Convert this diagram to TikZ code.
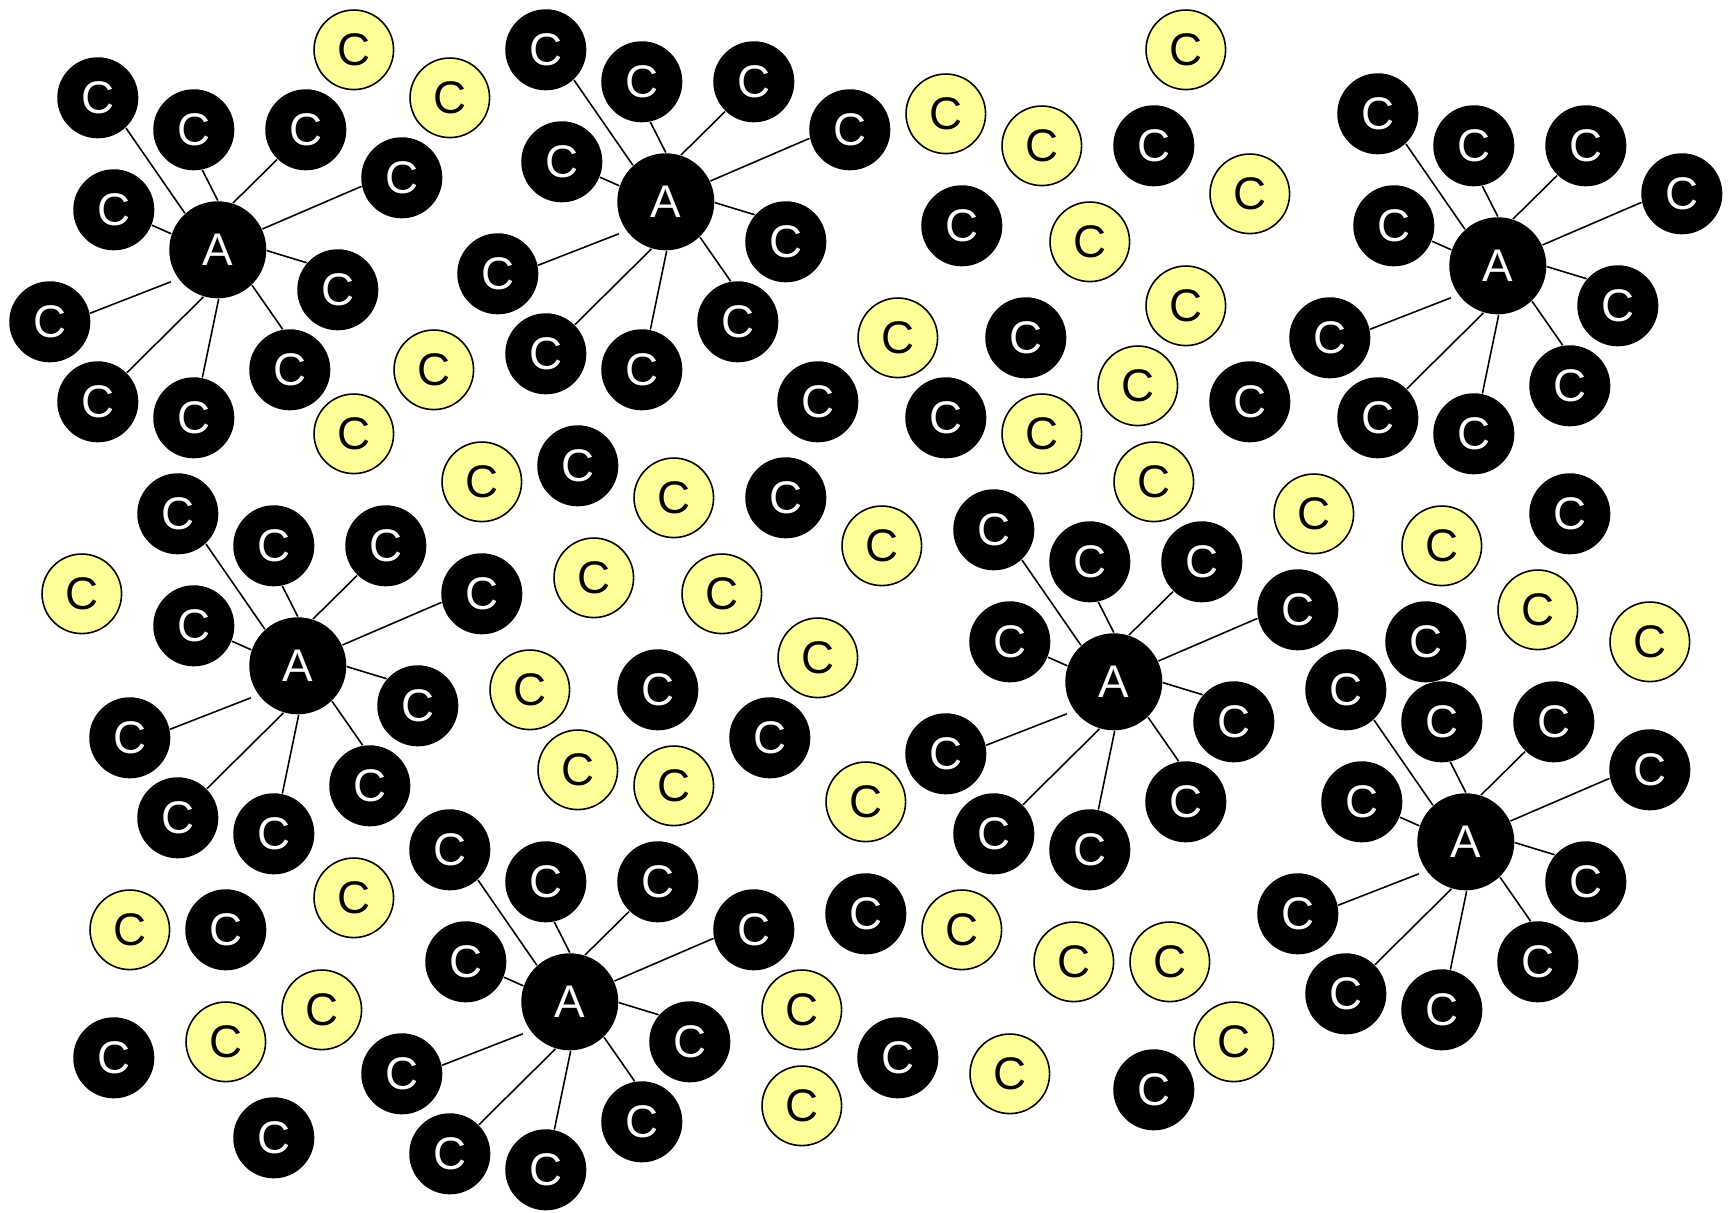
\documentclass[tikz,border=0pt]{standalone}
\usepackage{fontspec}
\setmainfont{Liberation Sans}
\definecolor{paleyellow}{HTML}{FFFF99}

\begin{document}
\begin{tikzpicture}[x=0.01cm,y=-0.01cm,
  atom/.style={circle,inner sep=0pt,minimum size=0.81cm,font=\fontsize{13}{15}\selectfont},
  hub/.style={atom,fill=black,text=white,minimum size=0.97cm},
  bound/.style={atom,fill=black,text=white},
  loose/.style={atom,draw=black,line width=0.45pt,fill=paleyellow,minimum size=0.795cm},
  link/.style={line width=0.45pt}]
  \useasboundingbox (0,0) rectangle (1734,1212);

  % seven A clusters, all of the same shape
  \foreach \k/\ax/\ay in {1/217.8/249.8, 2/665.8/201.8, 3/1497.8/265.8, 4/297.8/665.8,
                          5/1113.8/681.8, 6/1465.8/841.8, 7/569.8/1001.8} {
    \node[hub] (a\k) at (\ax,\ay) {A};
    \foreach \j/\dx/\dy in {1/-120/-152, 2/-24/-120, 3/88/-120, 4/184/-72, 5/-104/-40,
                            6/120/40, 7/-168/72, 8/72/120, 9/-120/152, 10/-24/168}
      \node[bound] (c\k-\j) at ([shift={(\dx,\dy)}]a\k.center) {C};
    \foreach \j/\p/\q in {1/132/313, 2/90/282, 3/72/226, 4/25/192, 5/161/338,
                          6/359/139, 8/314/100, 9/253/45, 10/271/78}
      \draw[link] (a\k.\p) -- (c\k-\j.\q);
    \coordinate (g\k) at ([shift={(-47,32)}]a\k.center);
    \draw[link] (c\k-7.12) -- (g\k);
  }

  % free C atoms
  \foreach \x/\y [count=\i] in {353.8/49.8, 449.8/97.8, 945.8/113.8, 1185.8/49.8, 1041.8/145.8,
      1249.8/193.8, 1089.8/241.8, 1185.8/305.8, 897.8/337.8, 433.8/369.8, 353.8/433.8,
      1137.8/385.8, 1041.8/433.8, 481.8/481.8, 673.8/497.8, 1153.8/481.8, 1313.8/513.8,
      881.8/545.8, 1441.8/545.8, 81.8/593.8, 593.8/577.8, 721.8/593.8, 1537.8/609.8,
      1649.8/641.8, 817.8/657.8, 529.8/689.8, 577.8/769.8, 673.8/785.8, 865.8/801.8,
      353.8/897.8, 129.8/929.8, 961.8/929.8, 1073.8/961.8, 1169.8/961.8, 321.8/1009.8,
      225.8/1041.8, 801.8/1009.8, 1233.8/1041.8, 1009.8/1073.8, 801.8/1105.8}
    \node[loose] (y\i) at (\x,\y) {C};

  \foreach \x/\y [count=\i] in {1153.8/145.8, 961.8/225.8, 1025.8/337.8, 817.8/401.8,
      945.8/417.8, 1249.8/401.8, 577.8/465.8, 785.8/497.8, 1569.8/513.8, 657.8/689.8,
      769.8/737.8, 1425.8/641.8, 225.8/929.8, 865.8/913.8, 113.8/1057.8, 897.8/1057.8,
      273.8/1137.8, 1153.8/1089.8}
    \node[bound] (b\i) at (\x,\y) {C};
\end{tikzpicture}
\end{document}
